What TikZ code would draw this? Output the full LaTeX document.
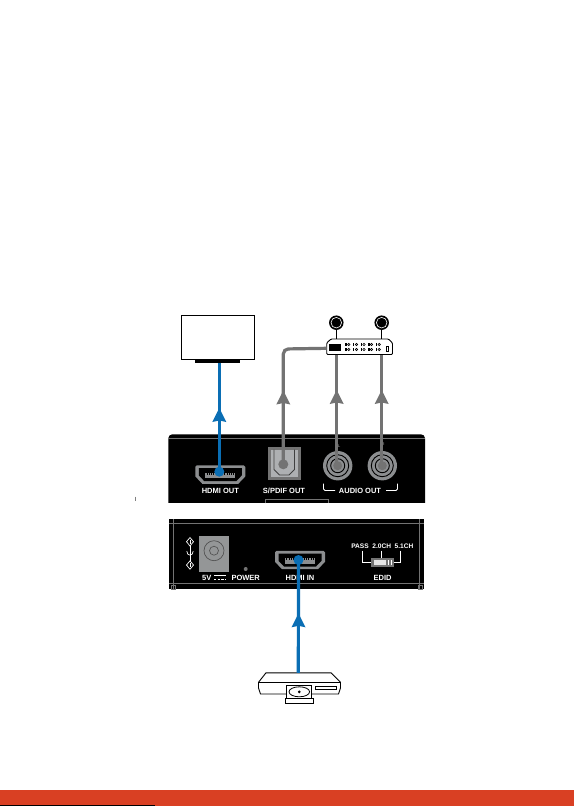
\documentclass[tikz,border=0pt]{standalone}
\usepackage{fontspec}
\setmainfont{Liberation Sans}
\usetikzlibrary{calc}
\definecolor{blueln}{HTML}{0A6EB4}
\definecolor{grayln}{HTML}{737373}
\definecolor{redbar}{HTML}{D94023}
\definecolor{portg}{HTML}{8C8E90}
\definecolor{lightg}{HTML}{AEB0B2}
\tikzset{
  x=1pt,y=-1pt,
  panel/.style={fill=black,draw=none},
  plabel/.style={text=white,font=\bfseries\fontsize{7.5}{8}\selectfont,inner sep=0pt},
  slabel/.style={text=white,font=\bfseries\fontsize{6.6}{7}\selectfont,inner sep=0pt},
  bluewire/.style={draw=blueln,line width=3.2pt},
  graywire/.style={draw=grayln,line width=3.2pt},
  whiteln/.style={draw=white,line width=.8pt},
  dev/.style={draw=black,fill=white,line width=.9pt},
  pt/.style={inner sep=0pt,minimum size=0pt},
}
\newcommand{\arrowhd}[2]{\fill[#1] ($(#2)+(0,0)$) -- ++(-7,14) -- ++(7,-1.5) -- ++(7,1.5) -- cycle;}
\newcommand{\hdmiport}[2]{%
  \begin{scope}[shift={(#1,#2)}]
  \fill[portg] (-23.5,-9.2) -- (23.5,-9.2) -- (25,-7.7) -- (25,1.8) -- (18,9.2) -- (-18,9.2) -- (-25,1.8) -- (-25,-7.7) -- cycle;
  \fill[black] (-21.5,-6.5) -- (21.5,-6.5) -- (21.5,.8) -- (16,6.5) -- (-16,6.5) -- (-21.5,.8) -- cycle;
  \fill[portg] (-15,-2) rectangle (15,3.5);
  \foreach \i in {-6,...,6}{\fill[black] ({\i*2.2-.4},-2) rectangle ++(.8,2);}
  \end{scope}}
\newcommand{\jack}[2]{%
  \begin{scope}[shift={(#1,#2)}]
  \fill[portg] (0,0) circle (14.7);
  \draw[black,line width=.9pt] (0,0) circle (11);
  \draw[black,line width=.9pt] (0,0) circle (7);
  \fill[grayln] (0,0) circle (4.5);
  \end{scope}}
\begin{document}
\begin{tikzpicture}
\useasboundingbox (0,0) rectangle (574,806);
\fill[white] (0,0) rectangle (574,806);
% red bar
\fill[redbar] (0,790) rectangle (574,806);
\fill[black] (0,805.2) rectangle (155,806);
% stray tick
\draw[gray,line width=.5pt] (135,496.5) -- (135,500.5);

% top panel
\fill[panel,rounded corners=4pt] (168.3,510) -- (168.3,434.3) -- (425,434.3) -- (425,510) -- cycle;
\fill[white] (160,503.3) rectangle (435,515);
\draw[grayln,line width=.5pt] (168.3,438.3) -- (425,438.3);
\draw[grayln,line width=.7pt] (265,503.3) -- (265,499.3) -- (328.3,499.3) -- (328.3,503.3);

% bottom panel
\fill[panel] (169,519.3) rectangle (424.3,589);
\draw[grayln,line width=.5pt] (169,523.3) -- (424.3,523.3) (169,583.5) -- (424.3,583.5) (173.3,519.3) -- (173.3,589) (419.3,519.3) -- (419.3,589);
\draw[grayln,line width=.5pt] (175,585) rectangle (171,589) (418,585) rectangle (422,589);

% TV
\node[dev,line width=1.3pt,minimum width=73pt,minimum height=44pt,inner sep=0pt,anchor=north west] (tv) at (181,315) {};
\node[fill=black,minimum width=45pt,minimum height=3pt,inner sep=0pt,anchor=north] (stand) at (217.5,359.5) {};

% HDMI OUT
\hdmiport{220.3}{474.6}
\node[pt,circle,fill=blueln,minimum size=10pt] (hdmiout) at (219.3,471.7) {};
\node[plabel] (hdmioutl) at (220.3,491) {HDMI OUT};

% S/PDIF
\fill[grayln] (267.7,446.7) rectangle (301,480);
\fill[lightg] (270.5,449.5) rectangle (298.2,477.2);
\draw[black!75,line width=.8pt] (274,449.5) -- (274,469.5) -- (279.5,475) -- (289,475) -- (294.5,469.5) -- (294.5,449.5);
\node[pt,circle,fill=grayln,minimum size=10pt] (spdif) at (283.3,464.3) {};
\node[plabel] (spdifl) at (284,491) {S/PDIF OUT};

% audio
\jack{337.7}{465.7}
\jack{382.3}{465.7}
\coordinate (audl) at (336.7,465.7);
\coordinate (audr) at (381.7,465.7);
\node[text=grayln,font=\bfseries\fontsize{4}{4}\selectfont,inner sep=0pt] (ll) at (339,445.7) {L};
\node[text=grayln,font=\bfseries\fontsize{4}{4}\selectfont,inner sep=0pt] (rl) at (383,444.5) {R};
\node[plabel] (audiol) at (360,491) {AUDIO OUT};
\draw[whiteln,rounded corners=1.5pt] (323.5,483.5) -- (323.5,490.5) -- (335,490.5);
\draw[whiteln,rounded corners=1.5pt] (397.5,483.5) -- (397.5,490.5) -- (386,490.5);

% receiver
\filldraw[dev,rounded corners=1pt] (326.7,343) -- (331,339) -- (388.5,339) -- (392.5,343) -- (392.5,354.5) -- (326.7,354.5) -- cycle;
\node[pt] (rcv) at (359.6,347) {};
\coordinate (rcvw) at (326.7,348.3);
\coordinate (rcvl) at (336.7,355);
\coordinate (rcvr) at (381.7,355);
\fill[black] (329,344) rectangle (341,351);
\foreach \x in {0,1,2,3,4}{
  \foreach \y in {344.5,349.5}{
    \fill[black] ({345.3+\x*7.6},\y-1.5) rectangle ++(1.4,3);
    \draw[black,line width=.6pt] ({348.8+\x*7.6},\y) circle (1.2);
  }
}
\draw[black,line width=.8pt] (386,346) rectangle (388.5,351.5);
\node[circle,fill=black,minimum size=14.5pt,inner sep=0pt] (ant1) at (336.3,322.7) {};
\node[circle,fill=black,minimum size=14.5pt,inner sep=0pt] (ant2) at (381.7,322.7) {};
\draw[white,line width=.6pt] (ant1.center) circle (5.3);
\draw[white,line width=.6pt] (ant2.center) circle (5.3);
\draw[black,line width=1.2pt] (ant1) -- (336.3,339) (ant2) -- (381.7,339);

% wires (top)
\draw[bluewire] (hdmiout.center) -- (219.3,362.5);
\arrowhd{blueln}{219.3,408}
\draw[graywire,rounded corners=5pt] (spdif.center) -- (283.3,349) -- (rcvw);
\arrowhd{grayln}{283.3,390.5}
\draw[graywire] (audl) -- (rcvl);
\arrowhd{grayln}{336.7,390}
\draw[graywire] (audr) -- (rcvr);
\arrowhd{grayln}{381.7,390}

% DC jack
\fill[lightg!85!black] (199.3,536) rectangle (229,571.7);
\draw[black!70,line width=.6pt] (214,550.7) circle (10);
\draw[black!70,line width=.6pt] (214,550.7) circle (4.5);
\draw[white,line width=.7pt] (190,537.5) -- (193.5,541.7) -- (190,546) -- (186.5,541.7) -- cycle;
\draw[white,line width=.7pt] (190,560.8) -- (193.5,565) -- (190,569.2) -- (186.5,565) -- cycle;
\draw[white,line width=.7pt] (190,539.5) -- (190,543.9) (190,546) -- (190,560.8) (190,562.8) -- (190,567.2);
\draw[white,line width=.7pt] (186.8,551) .. controls (186.8,556.5) and (193.2,556.5) .. (193.2,551);
\node[plabel] (fivev) at (206.7,577.7) {5V};
\draw[white,line width=.6pt] (214,575.6) -- (226,575.6);
\draw[white,line width=.6pt,dash pattern=on 2.4pt off 1.2pt] (214,579) -- (226,579);
\fill[grayln] (245.7,569) circle (2);
\node[plabel] (powerl) at (245.7,577.7) {POWER};

% HDMI IN
\hdmiport{300}{560}
\node[pt,circle,fill=blueln,minimum size=10pt] (hdmiin) at (298.5,560) {};
\node[plabel] (hdmiinl) at (300,577.7) {HDMI IN};

% EDID
\node[slabel] (pass) at (360,546.7) {PASS};
\node[slabel] (ch2) at (381.7,546.7) {2.0CH};
\node[slabel] (ch5) at (404,546.7) {5.1CH};
\node[fill=grayln,minimum width=23pt,minimum height=8.4pt,inner sep=0pt] (sw) at (382.5,562.5) {};
\fill[white!80!gray] (374,560) rectangle (386,565);
\draw[white,line width=.5pt] (388.5,560) -- (388.5,565) (391,560) -- (391,565);
\draw[whiteln] (362.3,550.5) |- (sw.west);
\draw[whiteln] (381.7,550.5) -- (381.7,558.3);
\draw[whiteln] (400.7,550.5) |- (sw.east);
\node[plabel] (edid) at (382.7,577.7) {EDID};

% player
\draw[dev,line join=round] (266,672.8) -- (331,672.8) -- (340.5,682.3) -- (340.5,688) -- (338.5,694) -- (260.5,694) -- (258.5,688) -- (258.5,682.3) -- cycle;
\coordinate (playertop) at (298.3,672.8);
\draw[black,line width=.8pt] (258.5,682.3) -- (340.5,682.3);
\draw[dev,line width=.7pt] (315,686.3) rectangle (336,689);
\draw[dev] (286.7,685.7) rectangle (311.7,698.3);
\draw[black,line width=.8pt] (299.3,691.8) ellipse (10.3 and 5);
\fill[black] (299.3,691.8) circle (1.5);
\draw[dev] (285,698) rectangle (313.5,703);

% wire (bottom)
\draw[bluewire] (hdmiin.center) -- (playertop);
\arrowhd{blueln}{298.5,613.3}
\end{tikzpicture}
\end{document}
